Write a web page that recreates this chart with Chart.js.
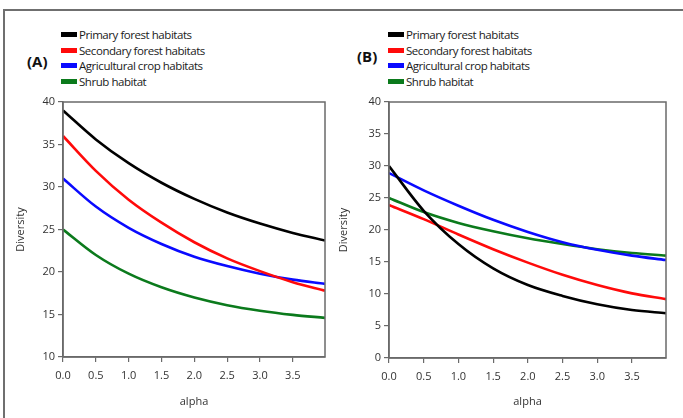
<!DOCTYPE html>
<html>
<head>
<meta charset="utf-8">
<script src="https://cdn.jsdelivr.net/npm/chart.js@4.4.1/dist/chart.umd.min.js"></script>
<style>
    body { margin: 0; background: #fff; width: 683px; height: 418px; overflow: hidden; position: relative; font-family: 'Open Sans', sans-serif; }
    #frame { position: absolute; left: 3px; top: 9px; width: 720px; height: 440px; border: 2px solid #6f6f6f; }
    .wrap { position: absolute; top: 90px; height: 328px; }
    .panel-label { position: absolute; font: bold 15px 'Open Sans', sans-serif; color: #111; }
    .legend { position: absolute; top: 27px; font-size: 11.5px; letter-spacing: -0.45px; color: #1a1a1a; line-height: 15.5px; }
    .legend .row { position: relative; height: 15.5px; white-space: nowrap; }
    .legend .sw { position: absolute; left: 0; top: 5px; width: 16px; height: 5px; }
    .legend .txt { position: absolute; left: 18px; top: 0; }
</style>
</head>
<body>
<div id="frame"></div>
<div class="panel-label" style="left:27px; top:51px;">(A)</div>
<div class="panel-label" style="left:357px; top:46px;">(B)</div>
<div class="legend" id="legendA" style="left:61px;"></div>
<div class="legend" id="legendB" style="left:388px;"></div>
<div class="wrap" style="left:0px; width:340px;"><canvas id="chartA" width="340" height="328"></canvas></div>
<div class="wrap" style="left:330px; width:353px;"><canvas id="chartB" width="353" height="328"></canvas></div>

<script>
// habitat names and line colours
var habitats = ['Primary forest habitats', 'Secondary forest habitats', 'Agricultural crop habitats', 'Shrub habitat'];
var colors = ['#000000', '#ff0a0a', '#0a0aff', '#0b7a1c'];

// alpha values where the curves were read
var alpha = [0, 0.5, 1.0, 1.5, 2.0, 2.5, 3.0, 3.5, 3.99];

// panel (A)
var primaryA = [39.0, 35.6, 32.8, 30.5, 28.6, 27.0, 25.7, 24.6, 23.7];
var secondaryA = [36.0, 31.9, 28.5, 25.8, 23.5, 21.6, 20.1, 18.8, 17.8];
var cropA = [31.0, 27.7, 25.2, 23.3, 21.8, 20.7, 19.8, 19.1, 18.6];
var shrubA = [25.0, 22.0, 19.8, 18.2, 17.0, 16.1, 15.45, 14.96, 14.6];

// panel (B)
var primaryB = [30.0, 23.0, 17.8, 14.0, 11.4, 9.7, 8.4, 7.5, 7.0];
var secondaryB = [23.9, 21.7, 19.3, 17.0, 14.9, 13.0, 11.4, 10.1, 9.2];
var cropB = [28.9, 26.2, 23.8, 21.6, 19.7, 18.1, 16.9, 16.0, 15.3];
var shrubB = [25.0, 22.8, 21.1, 19.8, 18.7, 17.8, 17.0, 16.4, 16.0];

var xTicks = [0, 0.5, 1.0, 1.5, 2.0, 2.5, 3.0, 3.5];

var tickFont = { family: "'Open Sans', sans-serif", size: 11 };
var axisGray = '#6a6a6a';

function makeLegend(id) {
    var box = document.getElementById(id);
    for (var i = 0; i < habitats.length; i++) {
        box.innerHTML += '<div class="row"><span class="sw" style="background:' + colors[i] + '"></span><span class="txt">' + habitats[i] + '</span></div>';
    }
}

function toPoints(values) {
    var pts = [];
    for (var i = 0; i < values.length; i++) {
        pts.push({ x: alpha[i], y: values[i] });
    }
    return pts;
}

// draws the closed box round the plot area
var boxPlugin = {
    id: 'plotBox',
    afterDatasetsDraw: function(chart) {
        var a = chart.chartArea;
        var ctx = chart.ctx;
        ctx.save();
        ctx.strokeStyle = axisGray;
        ctx.lineWidth = 1.5;
        ctx.strokeRect(a.left, a.top, a.right - a.left, a.bottom - a.top);
        ctx.restore();
    }
};

function makeChart(id, series, yMin, yWidth, xHeight, titlePad, padRight) {
    var datasets = [];
    for (var i = 0; i < series.length; i++) {
        datasets.push({
            label: habitats[i],
            data: toPoints(series[i]),
            borderColor: colors[i],
            borderWidth: 2.6,
            pointRadius: 0,
            cubicInterpolationMode: 'monotone',
            fill: false
        });
    }
    return new Chart(document.getElementById(id), {
        type: 'line',
        data: { datasets: datasets },
        plugins: [boxPlugin],
        options: {
            responsive: false,
            animation: false,
            events: [],
            layout: { padding: { top: 12, right: padRight, bottom: 0, left: 0 } },
            plugins: { legend: { display: false }, tooltip: { enabled: false } },
            scales: {
                x: {
                    type: 'linear',
                    min: 0,
                    max: 3.99,
                    afterBuildTicks: function(scale) {
                        scale.ticks = xTicks.map(function(v) { return { value: v }; });
                    },
                    afterFit: function(scale) { scale.height = xHeight; },
                    grid: { drawOnChartArea: false, tickLength: 5, color: axisGray, lineWidth: 1.2 },
                    border: { color: axisGray, width: 1.5 },
                    ticks: {
                        font: tickFont, color: '#333', padding: 7, maxRotation: 0,
                        callback: function(v) { return v.toFixed(1); }
                    },
                    title: { display: true, text: 'alpha', font: tickFont, color: '#333', padding: { top: 0, bottom: 10 } }
                },
                y: {
                    min: yMin,
                    max: 40,
                    afterFit: function(scale) { scale.width = yWidth; },
                    grid: { drawOnChartArea: false, tickLength: 5, color: axisGray, lineWidth: 1.2 },
                    border: { color: axisGray, width: 1.5 },
                    ticks: { stepSize: 5, font: tickFont, color: '#333', padding: 3 },
                    title: { display: true, text: 'Diversity', font: tickFont, color: '#333', padding: { top: titlePad, bottom: 0 } }
                }
            }
        }
    });
}

makeLegend('legendA');
makeLegend('legendB');
makeChart('chartA', [primaryA, secondaryA, cropA, shrubA], 10, 63, 61, 14, 15);
makeChart('chartB', [primaryB, secondaryB, cropB, shrubB], 0, 59, 60, 7, 17);
</script>
</body>
</html>
